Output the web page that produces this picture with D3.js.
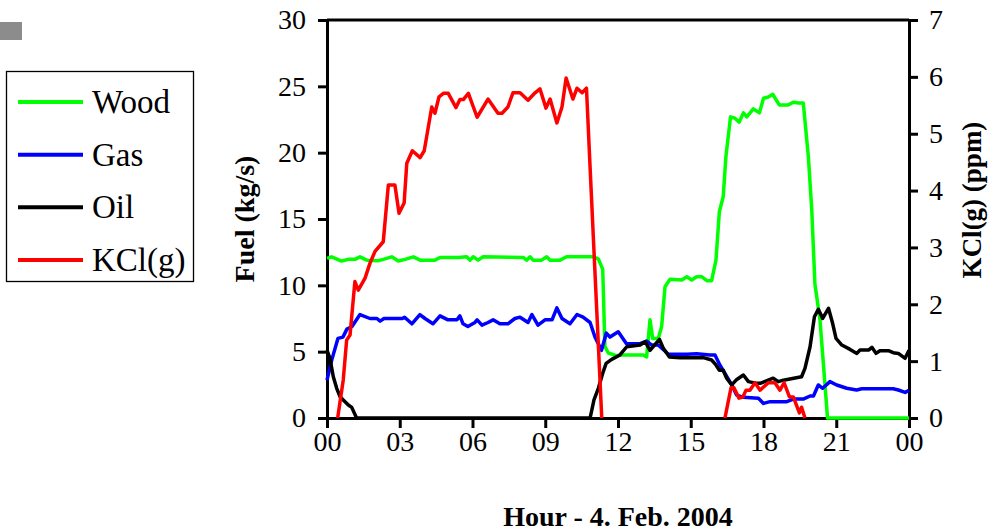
<!DOCTYPE html>
<html lang="en">
<head>
<meta charset="UTF-8">
<title>Fuel and KCl(g)</title>
<script src="https://cdn.jsdelivr.net/npm/d3@7"></script>
<style>
  body { margin: 0; background: #fff; }
  svg { display: block; font-family: "Liberation Serif", "Times New Roman", serif; }
</style>
</head>
<body>
<script>
// hour of day, value  (fuel kg/s on left axis, KCl ppm on right axis)
const wood = [[0,12.03],[0.19,12.15],[0.6,11.83],[0.88,11.96],[1.15,11.96],[1.36,12.15],[1.64,11.9],[2.12,11.86],[2.32,11.96],[2.67,12.15],[2.94,11.83],[3.22,11.96],[3.56,12.15],[3.84,11.9],[4.45,11.9],[4.66,12.1],[5.42,12.1],[5.76,12.15],[5.9,11.9],[6.03,12.15],[6.23,11.9],[6.44,12.15],[8.09,12.1],[8.23,11.9],[8.37,12.15],[8.5,11.9],[8.85,11.9],[9.06,12.15],[9.2,11.9],[9.61,11.9],[9.88,12.15],[10.98,12.15],[11.19,12.0],[11.37,11.2],[11.46,5.4],[11.6,4.9],[11.93,4.7],[12.08,4.75],[13.04,4.75],[13.18,4.6],[13.32,7.4],[13.43,6.0],[13.66,6.0],[13.8,6.9],[13.94,9.9],[14.14,10.45],[14.63,10.4],[14.84,10.65],[15.04,10.4],[15.24,10.65],[15.45,10.65],[15.66,10.35],[15.86,10.35],[16.04,11.9],[16.18,15.55],[16.34,16.7],[16.45,19.7],[16.64,22.7],[16.82,22.6],[17.0,22.3],[17.17,23.0],[17.31,22.7],[17.58,23.3],[17.83,23.0],[18.0,24.1],[18.2,24.2],[18.38,24.4],[18.65,23.6],[19.02,23.6],[19.23,23.8],[19.44,23.75],[19.64,23.75],[19.85,19.7],[19.99,15.7],[20.12,10.1],[20.33,7.4],[20.64,0],[24,0]];

const gas = [[0,2.86],[0.2,4.4],[0.45,6.0],[0.66,6.1],[0.82,6.7],[1.03,6.9],[1.36,7.8],[1.77,7.5],[2.06,7.5],[2.19,7.3],[2.35,7.5],[3.1,7.5],[3.2,7.6],[3.5,7.1],[3.83,7.8],[4.04,7.5],[4.37,7.1],[4.66,7.7],[4.99,7.4],[5.36,7.4],[5.48,7.7],[5.61,7.1],[5.81,6.9],[6.1,7.2],[6.19,7.4],[6.39,7.0],[6.64,7.2],[6.85,7.4],[7.13,7.1],[7.46,7.1],[7.75,7.5],[7.96,7.6],[8.29,7.2],[8.45,7.8],[8.7,7.0],[8.99,7.4],[9.28,7.4],[9.48,8.3],[9.69,7.5],[10.02,7.1],[10.31,7.8],[10.56,7.6],[10.85,7.2],[11.05,6.1],[11.32,5.1],[11.52,6.4],[11.67,6.1],[12.01,6.5],[12.35,5.6],[12.91,5.6],[13.18,5.8],[13.39,5.5],[13.66,5.5],[14.08,4.8],[14.84,4.8],[15.24,4.85],[15.79,4.75],[16.0,4.75],[16.2,4.0],[16.41,3.37],[16.69,2.5],[16.89,1.73],[17.17,1.56],[17.79,1.48],[18.0,1.1],[18.27,1.23],[18.96,1.23],[19.23,1.43],[19.64,1.43],[19.92,1.66],[20.06,1.66],[20.26,2.49],[20.44,2.24],[20.74,2.74],[21.02,2.49],[21.43,2.24],[21.84,2.11],[22.05,2.2],[23.35,2.2],[23.56,2.11],[23.84,1.93],[24,2.1]];

const oil = [[0,5.12],[0.12,4.5],[0.26,3.11],[0.4,2.24],[0.54,1.6],[0.67,1.36],[0.88,0.98],[1.02,0.8],[1.22,0],[10.85,0],[11.01,1.36],[11.19,2.24],[11.37,3.37],[11.51,4.12],[11.74,4.42],[12.08,4.75],[12.36,5.37],[12.91,5.5],[13.12,5.75],[13.32,5.1],[13.71,5.93],[13.87,5.25],[14.12,4.6],[14.56,4.55],[15.52,4.55],[15.86,4.37],[16.04,4.0],[16.18,3.6],[16.34,3.6],[16.48,3.0],[16.69,2.5],[16.87,2.86],[17.17,3.24],[17.38,2.74],[17.72,2.61],[17.86,2.61],[18.4,3.0],[18.61,2.74],[18.82,2.85],[19.57,3.11],[19.71,3.74],[19.92,5.37],[20.1,7.63],[20.26,8.19],[20.44,7.51],[20.68,8.27],[20.85,7.14],[20.99,6.0],[21.23,5.5],[21.57,5.17],[21.85,4.87],[21.98,5.12],[22.33,5.12],[22.47,5.33],[22.64,4.87],[22.8,5.07],[23.15,5.07],[23.35,4.92],[23.56,4.87],[23.84,4.5],[24,5.1]];

// KCl(g) is logged in two runs, nothing in between
const kclMorning = [[0.44,0],[0.67,0.67],[0.81,1.37],[0.95,1.46],[1.15,2.4],[1.29,2.25],[1.57,2.46],[1.77,2.72],[1.98,2.93],[2.32,3.1],[2.53,4.1],[2.8,4.1],[2.97,3.6],[3.18,3.78],[3.29,4.48],[3.52,4.7],[3.84,4.58],[4.01,4.7],[4.32,5.47],[4.45,5.36],[4.62,5.65],[4.8,5.71],[5.0,5.71],[5.32,5.46],[5.48,5.6],[5.62,5.6],[5.83,5.71],[6.19,5.29],[6.64,5.61],[7.05,5.36],[7.22,5.36],[7.46,5.47],[7.67,5.72],[7.96,5.72],[8.29,5.59],[8.58,5.72],[8.78,5.79],[9.03,5.45],[9.2,5.61],[9.48,5.19],[9.69,5.47],[9.86,5.98],[10.14,5.61],[10.31,5.8],[10.52,5.72],[10.7,5.8],[10.85,4.4],[11.33,0]];
const kclEvening = [[16.41,0],[16.66,0.53],[16.78,0.53],[16.99,0.35],[17.15,0.37],[17.28,0.49],[17.44,0.49],[17.65,0.62],[17.86,0.49],[18.2,0.62],[18.47,0.62],[18.68,0.49],[18.85,0.62],[19.07,0.37],[19.23,0.37],[19.48,0.09],[19.57,0.19],[19.71,0]];

const hourTicks = [0, 3, 6, 9, 12, 15, 18, 21, 24];
const hourLabels = ['00', '03', '06', '09', '12', '15', '18', '21', '00'];
const fuelTicks = [0, 5, 10, 15, 20, 25, 30];
const kclTicks = [0, 1, 2, 3, 4, 5, 6, 7];

const legendNames = ['Wood', 'Gas', 'Oil', 'KCl(g)'];
const colors = ['#00ff00', '#0000ff', '#000000', '#ff0000'];

const width = 995;
const height = 531;
const plot = { left: 327, right: 909, top: 20, bottom: 418 };
const serif = '"Liberation Serif", "Times New Roman", serif';

const svg = d3.select('body').append('svg')
  .attr('width', width)
  .attr('height', height);

const x = d3.scaleLinear().domain([0, 24]).range([plot.left, plot.right]);
const yFuel = d3.scaleLinear().domain([0, 30]).range([plot.bottom, plot.top]);
const yKcl = d3.scaleLinear().domain([0, 7]).range([plot.bottom, plot.top]);

// frame top line
svg.append('line')
  .attr('x1', plot.left).attr('x2', plot.right)
  .attr('y1', plot.top).attr('y2', plot.top)
  .attr('stroke', '#000').attr('stroke-width', 3);

const xAxis = d3.axisBottom(x).tickValues(hourTicks)
  .tickFormat((d, i) => hourLabels[i]).tickSize(10).tickSizeOuter(0).tickPadding(3);
const leftAxis = d3.axisLeft(yFuel).tickValues(fuelTicks).tickFormat(d3.format('d'))
  .tickSize(9).tickSizeOuter(0).tickPadding(12);
const rightAxis = d3.axisRight(yKcl).tickValues(kclTicks).tickFormat(d3.format('d'))
  .tickSize(9).tickSizeOuter(0).tickPadding(11);

function styleAxis(g) {
  g.attr('font-family', null);
  g.selectAll('path, line').attr('stroke', '#000').attr('stroke-width', 3);
  g.selectAll('text').attr('font-size', 28).attr('fill', '#000')
    .style('font-family', serif);
}

svg.append('g').attr('transform', `translate(0,${plot.bottom})`).call(xAxis).call(styleAxis);
svg.append('g').attr('transform', `translate(${plot.left},0)`).call(leftAxis).call(styleAxis);
svg.append('g').attr('transform', `translate(${plot.right},0)`).call(rightAxis).call(styleAxis);

const fuelLine = d3.line().x(d => x(d[0])).y(d => yFuel(d[1]));
const kclLine = d3.line().x(d => x(d[0])).y(d => yKcl(d[1]));

const fuelSeries = [wood, gas, oil];
fuelSeries.forEach((s, i) => {
  svg.append('path')
    .datum(s)
    .attr('d', fuelLine)
    .attr('fill', 'none')
    .attr('stroke', colors[i])
    .attr('stroke-width', 3.5)
    .attr('stroke-linejoin', 'round');
});

[kclMorning, kclEvening].forEach(s => {
  svg.append('path')
    .datum(s)
    .attr('d', kclLine)
    .attr('fill', 'none')
    .attr('stroke', colors[3])
    .attr('stroke-width', 3.5)
    .attr('stroke-linejoin', 'round');
});

// axis titles
svg.append('text')
  .attr('transform', `translate(248,${(plot.top + plot.bottom) / 2}) rotate(-90)`)
  .attr('text-anchor', 'middle')
  .attr('dominant-baseline', 'middle')
  .attr('font-weight', 'bold')
  .attr('font-size', 28)
  .text('Fuel (kg/s)');

svg.append('text')
  .attr('transform', `translate(975,200) rotate(-90)`)
  .attr('text-anchor', 'middle')
  .attr('dominant-baseline', 'middle')
  .attr('font-weight', 'bold')
  .attr('font-size', 27)
  .text('KCl(g) (ppm)');

svg.append('text')
  .attr('x', (plot.left + plot.right) / 2)
  .attr('y', 526)
  .attr('text-anchor', 'middle')
  .attr('font-weight', 'bold')
  .attr('font-size', 28)
  .text('Hour - 4. Feb. 2004');

// little grey square top left
svg.append('rect')
  .attr('x', 0).attr('y', 22)
  .attr('width', 22).attr('height', 18)
  .attr('fill', '#8c8c8c');

// legend
const legend = svg.append('g');
legend.append('rect')
  .attr('x', 6.5).attr('y', 71.5)
  .attr('width', 187).attr('height', 210)
  .attr('fill', '#fff')
  .attr('stroke', '#000')
  .attr('stroke-width', 1.3);

const legendY = d3.scalePoint().domain(legendNames).range([102, 260]);

legendNames.forEach((name, i) => {
  legend.append('line')
    .attr('x1', 18).attr('x2', 83)
    .attr('y1', legendY(name)).attr('y2', legendY(name))
    .attr('stroke', colors[i])
    .attr('stroke-width', 4);
  legend.append('text')
    .attr('x', 92)
    .attr('y', legendY(name))
    .attr('dominant-baseline', 'central')
    .attr('font-size', 33)
    .text(name);
});
</script>
</body>
</html>
